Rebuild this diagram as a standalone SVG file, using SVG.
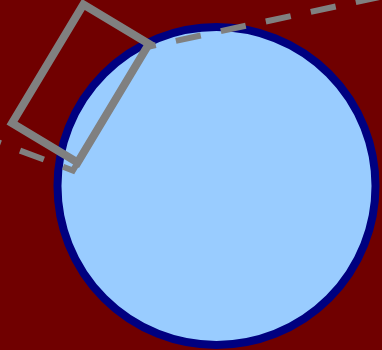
<svg xmlns="http://www.w3.org/2000/svg" width="382" height="350" viewBox="0 0 382 350">
  <style>
    .bg { fill: #700000; }
    .planet { fill: #99ccff; stroke: #000080; stroke-width: 8; }
    .box { fill: none; stroke: #808080; stroke-width: 8; }
    .dash { fill: none; stroke: #808080; stroke-width: 6; stroke-dasharray: 25.5 20.5; stroke-dashoffset: 21.4; }
  </style>
  <rect class="bg" x="0" y="0" width="382" height="350"/>
  <g id="circle">
    <circle class="planet" cx="216.5" cy="186" r="159"/>
  </g>
  <g id="connectors">
    <path class="dash" d="M-3,141.9 L72.9,170.5 L147.1,47 L382,-3.5"/>
  </g>
  <g id="box">
    <rect class="box" x="-38.25" y="-69.25" width="76.5" height="138.5" transform="translate(80.5,83.5) rotate(31)"/>
  </g>
</svg>
